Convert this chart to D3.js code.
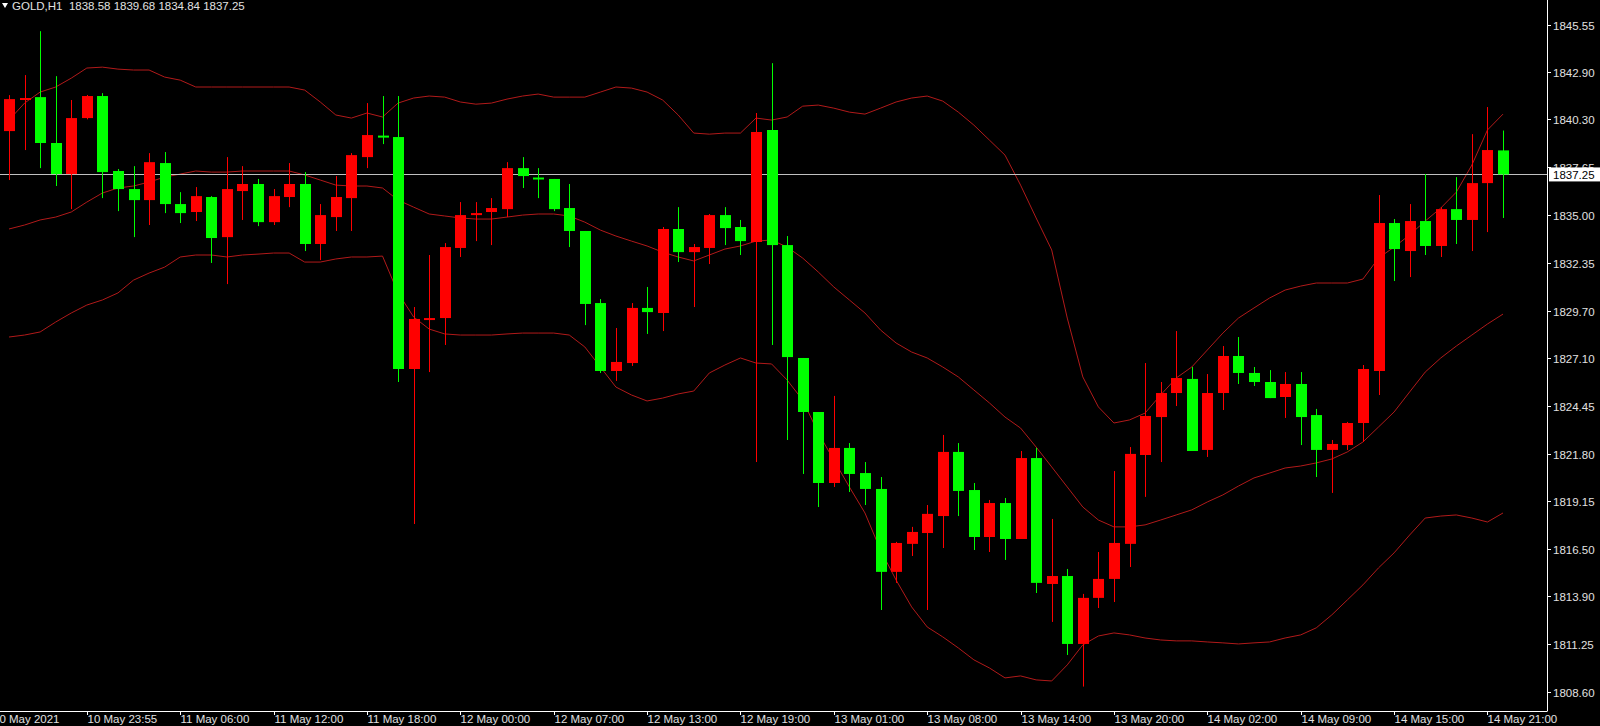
<!DOCTYPE html>
<html>
<head>
<meta charset="utf-8">
<script src="https://cdn.jsdelivr.net/npm/d3@7/dist/d3.min.js"></script>
<style>
  body { margin: 0; background: #000; }
  svg { display: block; font-family: "Liberation Sans", "DejaVu Sans", sans-serif; }
</style>
</head>
<body>
<svg width="1600" height="726"></svg>
<script>
// GOLD H1 candles (open, high, low, close), oldest first
var opens = [1839.65,1841.42,1841.53,1838.99,1837.27,1840.37,1841.59,1837.44,1836.44,1835.83,
  1837.88,1835.61,1835.17,1836.00,1833.78,1836.33,1836.72,1834.61,1836.00,1836.72,
  1833.40,1834.89,1835.94,1838.21,1839.40,1839.32,1826.48,1829.25,1829.30,1833.18,
  1835.00,1835.17,1835.33,1837.60,1837.08,1837.00,1835.39,1834.12,1830.13,1826.37,
  1826.81,1829.86,1829.58,1834.23,1832.95,1833.18,1835.00,1834.34,1833.51,1839.71,
  1833.34,1827.09,1824.10,1820.17,1822.11,1820.72,1819.84,1815.25,1816.80,1817.40,
  1818.34,1821.89,1819.78,1817.18,1819.06,1817.07,1821.55,1814.58,1815.02,1811.26,
  1813.81,1814.86,1816.80,1821.72,1823.82,1825.15,1825.93,1822.00,1825.15,1827.20,
  1826.26,1825.76,1824.93,1825.65,1823.93,1822.00,1822.27,1823.49,1826.37,1834.56,
  1833.01,1834.67,1833.29,1835.33,1834.73,1836.77,1838.58];
var highs = [1841.64,1842.75,1845.18,1842.69,1841.37,1841.65,1841.75,1837.55,1837.71,1838.43,
  1838.49,1836.27,1836.55,1836.05,1838.21,1837.71,1837.00,1836.44,1837.88,1837.38,
  1835.61,1837.16,1838.43,1841.20,1841.59,1841.59,1829.91,1832.79,1833.45,1835.72,
  1835.72,1835.94,1837.93,1838.21,1837.60,1837.00,1836.72,1834.12,1830.35,1828.75,
  1830.13,1831.02,1834.34,1835.44,1833.40,1835.06,1835.44,1834.73,1840.65,1843.41,
  1833.84,1827.09,1824.10,1824.99,1822.38,1821.33,1820.50,1816.91,1817.74,1818.95,
  1822.83,1822.38,1820.17,1819.23,1819.34,1821.94,1822.11,1818.18,1815.41,1814.03,
  1816.35,1820.83,1822.16,1826.81,1825.76,1828.58,1826.59,1826.20,1827.75,1828.25,
  1826.59,1826.42,1826.31,1826.31,1824.27,1822.55,1823.55,1826.70,1836.11,1834.78,
  1835.61,1837.27,1835.44,1837.10,1839.48,1840.98,1839.68];
var lows = [1836.94,1838.60,1837.60,1836.61,1835.33,1840.30,1835.94,1835.22,1833.78,1834.45,
  1835.11,1834.56,1834.67,1832.35,1831.18,1834.73,1834.39,1834.45,1835.44,1833.01,
  1832.51,1834.12,1834.12,1837.60,1838.93,1825.76,1817.90,1826.31,1827.81,1832.68,
  1833.56,1833.34,1834.89,1836.50,1835.94,1835.22,1833.23,1828.91,1826.26,1825.82,
  1826.65,1828.42,1828.58,1832.40,1829.91,1832.29,1833.34,1832.79,1821.33,1827.81,
  1822.55,1820.67,1818.84,1819.95,1819.67,1818.95,1813.14,1814.64,1816.13,1813.14,
  1816.57,1818.34,1816.46,1816.35,1815.91,1817.07,1814.08,1812.48,1810.65,1808.90,
  1813.25,1813.58,1815.52,1819.40,1821.33,1824.43,1821.94,1821.61,1824.21,1825.65,
  1825.54,1824.87,1823.77,1822.27,1820.50,1819.62,1822.00,1822.44,1825.04,1831.35,
  1831.57,1832.79,1832.68,1833.40,1833.01,1834.06,1834.84];
var closes = [1841.42,1841.48,1838.99,1837.27,1840.37,1841.59,1837.38,1836.44,1835.83,1837.93,
  1835.61,1835.11,1836.05,1833.73,1836.44,1836.72,1834.61,1836.05,1836.72,1833.40,
  1835.00,1836.00,1838.32,1839.43,1839.35,1826.48,1829.25,1829.30,1833.23,1835.00,
  1835.11,1835.39,1837.60,1837.16,1837.05,1835.33,1834.12,1830.08,1826.37,1826.87,
  1829.86,1829.63,1834.23,1832.95,1833.23,1835.00,1834.28,1833.56,1839.60,1833.34,
  1827.14,1824.10,1820.17,1822.11,1820.67,1819.84,1815.25,1816.85,1817.46,1818.46,
  1821.89,1819.73,1817.18,1819.06,1817.07,1821.55,1814.64,1815.02,1811.26,1813.81,
  1814.86,1816.85,1821.78,1823.88,1825.15,1825.98,1821.94,1825.15,1827.20,1826.26,
  1825.76,1824.87,1825.65,1823.82,1822.00,1822.33,1823.49,1826.48,1834.56,1833.12,
  1834.67,1833.29,1835.33,1834.73,1836.77,1838.60,1837.25];

// Bollinger bands
var bandUpper = [1840.26,1841.20,1841.81,1842.09,1842.58,1843.14,1843.19,1843.08,1843.03,1843.03,
  1842.64,1842.47,1842.09,1842.09,1842.09,1842.09,1842.09,1842.09,1842.09,1841.92,
  1841.26,1840.54,1840.37,1840.65,1840.43,1841.20,1841.48,1841.59,1841.53,1841.26,
  1841.14,1841.20,1841.42,1841.59,1841.70,1841.53,1841.53,1841.53,1841.81,1842.09,
  1842.03,1841.81,1841.37,1840.54,1839.54,1839.48,1839.54,1839.54,1840.37,1840.26,
  1840.43,1841.03,1841.09,1840.92,1840.70,1840.59,1840.92,1841.26,1841.48,1841.59,
  1841.31,1840.70,1839.98,1839.15,1838.32,1836.66,1834.84,1833.07,1829.30,1826.04,
  1824.38,1823.49,1823.66,1824.04,1825.04,1825.98,1826.59,1827.53,1828.47,1829.30,
  1829.86,1830.41,1830.85,1831.07,1831.24,1831.24,1831.24,1831.46,1832.62,1833.23,
  1833.90,1834.67,1835.39,1836.27,1837.77,1839.71,1840.59];
var bandMiddle = [1834.23,1834.45,1834.73,1834.89,1835.17,1835.72,1836.22,1836.50,1836.61,1836.83,
  1837.10,1837.27,1837.44,1837.38,1837.38,1837.44,1837.44,1837.44,1837.44,1837.22,
  1836.94,1836.66,1836.61,1836.61,1836.50,1835.83,1835.44,1835.06,1834.95,1834.84,
  1834.78,1834.78,1834.89,1835.00,1835.06,1835.06,1834.95,1834.61,1834.17,1833.84,
  1833.56,1833.29,1832.95,1832.68,1832.46,1832.79,1833.12,1833.29,1833.56,1833.62,
  1833.23,1832.62,1831.85,1831.02,1830.30,1829.58,1828.64,1827.92,1827.42,1827.09,
  1826.59,1826.04,1825.32,1824.60,1823.82,1823.21,1822.16,1821.06,1819.95,1818.84,
  1818.12,1817.74,1817.74,1817.85,1818.12,1818.40,1818.68,1819.12,1819.51,1820.00,
  1820.45,1820.72,1821.00,1821.11,1821.28,1821.50,1821.89,1822.44,1823.27,1824.10,
  1825.21,1826.31,1827.09,1827.75,1828.36,1828.97,1829.52];
var bandLower = [1828.25,1828.36,1828.53,1829.08,1829.58,1830.02,1830.30,1830.69,1831.40,1831.79,
  1832.12,1832.68,1832.79,1832.79,1832.68,1832.79,1832.84,1832.90,1832.90,1832.40,
  1832.40,1832.57,1832.68,1832.68,1832.73,1830.69,1829.36,1828.69,1828.42,1828.36,
  1828.36,1828.36,1828.42,1828.47,1828.47,1828.47,1828.36,1827.70,1826.59,1825.48,
  1825.04,1824.71,1824.87,1825.10,1825.26,1826.26,1826.70,1827.09,1826.81,1826.76,
  1825.87,1824.76,1822.94,1821.44,1819.95,1818.51,1816.46,1814.80,1813.31,1812.20,
  1811.65,1811.04,1810.38,1809.93,1809.38,1809.49,1809.27,1809.21,1810.10,1811.21,
  1811.70,1811.87,1811.76,1811.59,1811.48,1811.43,1811.43,1811.37,1811.32,1811.26,
  1811.32,1811.37,1811.59,1811.76,1812.15,1812.87,1813.70,1814.53,1815.47,1816.30,
  1817.29,1818.23,1818.34,1818.40,1818.23,1818.01,1818.51];

var priceTicks = [1845.55,1842.90,1840.30,1837.65,1835.00,1832.35,1829.70,1827.10,1824.45,1821.80,1819.15,1816.50,1813.90,1811.25,1808.60];
var timeTickIdx = [5,11,17,23,29,35,41,47,53,59,65,71,77,83,89,95];
var timeTickLabels = ["10 May 23:55","11 May 06:00","11 May 12:00","11 May 18:00","12 May 00:00","12 May 07:00","12 May 13:00","12 May 19:00",
  "13 May 01:00","13 May 08:00","13 May 14:00","13 May 20:00","14 May 02:00","14 May 09:00","14 May 15:00","14 May 21:00"];
var lastPrice = 1837.25;

var plotRight = 1547, plotBottom = 711;
var svg = d3.select("svg");
svg.append("rect").attr("width", 1600).attr("height", 726).attr("fill", "#000");

var x = d3.scaleLinear().domain([0, opens.length - 1]).range([9, 1503]);
var y = d3.scaleLinear().domain([1808.60, 1845.55]).range([692, 24.5]);

var plot = svg.append("g");

// bands
["#b11a1a", "#b11a1a", "#b11a1a"].forEach(function(c, k) {
  var arr = [bandUpper, bandMiddle, bandLower][k];
  plot.append("path")
    .datum(arr)
    .attr("fill", "none")
    .attr("stroke", c)
    .attr("stroke-width", 1)
    .attr("d", d3.line().x(function(d, i) { return x(i); }).y(function(d) { return y(d); }));
});

// last price line
plot.append("line")
  .attr("x1", 0).attr("x2", plotRight)
  .attr("y1", Math.round(y(lastPrice)) + 0.5).attr("y2", Math.round(y(lastPrice)) + 0.5)
  .attr("stroke", "#c0c0c0").attr("stroke-width", 1);

var candles = plot.selectAll("g.c")
  .data(opens.map(function(o, i) { return {o: o, h: highs[i], l: lows[i], c: closes[i], i: i}; }))
  .enter().append("g");

candles.append("line")
  .attr("x1", function(d) { return Math.round(x(d.i)) + 0.5; })
  .attr("x2", function(d) { return Math.round(x(d.i)) + 0.5; })
  .attr("y1", function(d) { return y(d.h); })
  .attr("y2", function(d) { return y(d.l); })
  .attr("stroke", function(d) { return d.c >= d.o ? "#ff0000" : "#00ff00"; })
  .attr("stroke-width", 1);

candles.append("rect")
  .attr("x", function(d) { return Math.round(x(d.i)) - 5; })
  .attr("width", 11)
  .attr("y", function(d) { return y(Math.max(d.o, d.c)); })
  .attr("height", function(d) { return Math.max(2, Math.abs(y(d.o) - y(d.c))); })
  .attr("fill", function(d) { return d.c >= d.o ? "#ff0000" : "#00ff00"; });

// axes frame
svg.append("line").attr("x1", plotRight + 0.5).attr("x2", plotRight + 0.5).attr("y1", 0).attr("y2", plotBottom)
  .attr("stroke", "#fff");
svg.append("line").attr("x1", 0).attr("x2", plotRight + 0.5).attr("y1", plotBottom + 0.5).attr("y2", plotBottom + 0.5)
  .attr("stroke", "#fff");

var yAxis = svg.append("g");
priceTicks.forEach(function(p) {
  var yy = Math.round(y(p)) + 0.5;
  yAxis.append("line").attr("x1", plotRight).attr("x2", plotRight + 4).attr("y1", yy).attr("y2", yy).attr("stroke", "#fff");
  yAxis.append("text").attr("x", plotRight + 6).attr("y", yy + 4)
    .attr("fill", "#e0e0e0").attr("font-size", 11.5).text(p.toFixed(2));
});

// last price label
var ly = y(lastPrice);
svg.append("rect").attr("x", plotRight + 2).attr("y", ly - 7).attr("width", 52).attr("height", 14).attr("fill", "#fff");
svg.append("text").attr("x", plotRight + 6).attr("y", ly + 4.5).attr("fill", "#000").attr("font-size", 11.5).text(lastPrice.toFixed(2));

var xAxis = svg.append("g");
xAxis.append("text").attr("x", -7).attr("y", 723).attr("fill", "#e0e0e0").attr("font-size", 11.5).text("10 May 2021");
timeTickIdx.forEach(function(idx, k) {
  var xx = Math.round(x(idx)) + 0.5;
  xAxis.append("line").attr("x1", xx).attr("x2", xx).attr("y1", plotBottom).attr("y2", plotBottom + 4).attr("stroke", "#fff");
  xAxis.append("text").attr("x", xx).attr("y", 723).attr("fill", "#e0e0e0").attr("font-size", 11.5).text(timeTickLabels[k]);
});

// header
svg.append("path").attr("d", "M2,3 L8,3 L5,8 Z").attr("fill", "#fff");
svg.append("text").attr("x", 12).attr("y", 10).attr("fill", "#e0e0e0").attr("font-size", 11.5)
  .attr("xml:space", "preserve")
  .text("GOLD,H1  " + opens[opens.length - 1].toFixed(2) + " " + highs[highs.length - 1].toFixed(2) + " " +
        lows[lows.length - 1].toFixed(2) + " " + closes[closes.length - 1].toFixed(2));
</script>
</body>
</html>
